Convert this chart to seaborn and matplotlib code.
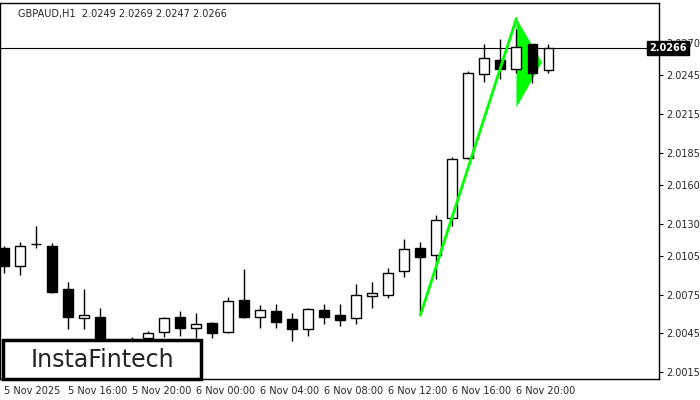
import numpy as np
import matplotlib.pyplot as plt
import seaborn as sns
from matplotlib.patches import Rectangle, Polygon

sns.set_style("white")
plt.rcParams['font.family'] = ['DejaVu Sans']

# OHLC, hourly from 5 Nov 12:00
opens  = [2.0111, 2.0097, 2.0114, 2.0113, 2.0079, 2.0057, 2.0058, 2.0032, 2.0036, 2.0041, 2.0046, 2.0058,
          2.0049, 2.0053, 2.0046, 2.0071, 2.0058, 2.0062, 2.0056, 2.0048, 2.0063, 2.0059, 2.0057, 2.0074,
          2.0075, 2.0093, 2.0111, 2.0106, 2.0134, 2.0181, 2.0246, 2.0257, 2.0250, 2.0269, 2.0249]
highs  = [2.0113, 2.0116, 2.0128, 2.0115, 2.0085, 2.0079, 2.0065, 2.0040, 2.0042, 2.0047, 2.0058, 2.0062,
          2.0061, 2.0054, 2.0073, 2.0095, 2.0067, 2.0068, 2.0061, 2.0065, 2.0068, 2.0068, 2.0083, 2.0085,
          2.0096, 2.0118, 2.0116, 2.0137, 2.0182, 2.0248, 2.0269, 2.0273, 2.0281, 2.0269, 2.0269]
lows   = [2.0092, 2.0090, 2.0111, 2.0076, 2.0048, 2.0048, 2.0025, 2.0028, 2.0032, 2.0040, 2.0042, 2.0043,
          2.0041, 2.0041, 2.0045, 2.0057, 2.0049, 2.0049, 2.0039, 2.0043, 2.0052, 2.0051, 2.0052, 2.0065,
          2.0072, 2.0089, 2.0059, 2.0087, 2.0128, 2.0180, 2.0240, 2.0242, 2.0247, 2.0239, 2.0247]
closes = [2.0097, 2.0113, 2.0114, 2.0077, 2.0058, 2.0059, 2.0030, 2.0036, 2.0040, 2.0045, 2.0057, 2.0049,
          2.0052, 2.0045, 2.0070, 2.0058, 2.0063, 2.0054, 2.0048, 2.0064, 2.0058, 2.0055, 2.0075, 2.0076,
          2.0092, 2.0110, 2.0104, 2.0133, 2.0180, 2.0247, 2.0258, 2.0250, 2.0267, 2.0247, 2.0266]
date_labels = ["5 Nov 2025", "5 Nov 16:00", "5 Nov 20:00", "6 Nov 00:00", "6 Nov 04:00",
               "6 Nov 08:00", "6 Nov 12:00", "6 Nov 16:00", "6 Nov 20:00"]
price_ticks = [2.0015, 2.0045, 2.0075, 2.0105, 2.0130, 2.0160, 2.0185, 2.0215, 2.0245, 2.0270]
current = 2.0266

# pennant pattern
pole_x, pole_y = [26, 32], [2.0059, 2.0289]
flag_x, flag_y = [32, 32, 33.6], [2.0289, 2.0220, 2.0255]

fig = plt.figure(figsize=(7, 4), dpi=100)
ax = fig.add_axes([0.0, 0.0525, 0.9414, 0.94])

w = 0.62
for i, (o, h, l, c) in enumerate(zip(opens, highs, lows, closes)):
    ax.vlines(i, l, h, color='black', lw=1, zorder=2)
    lo, hi = min(o, c), max(o, c)
    fc = 'white' if c >= o else 'black'
    ax.add_patch(Rectangle((i - w / 2, lo), w, max(hi - lo, 0.00002),
                           facecolor=fc, edgecolor='black', lw=1, zorder=3))

ax.add_patch(Polygon(list(zip(flag_x, flag_y)), closed=True, facecolor='#00ff00',
                     edgecolor='none', zorder=1.5))
ax.plot(pole_x, pole_y, color='#00ff00', lw=2, zorder=4)
ax.axhline(current, color='black', lw=0.8, zorder=1)

ax.set_xlim(-0.25, 40.9)
ax.set_ylim(2.00096, 2.0301)
ax.yaxis.tick_right()
ax.set_yticks(price_ticks)
ax.set_yticklabels([f"{t:.4f}" for t in price_ticks], fontsize=7)
ax.set_xticks(np.arange(0, 33, 4))
ax.set_xticklabels(date_labels, fontsize=7, ha='left')
ax.tick_params(axis='both', length=3, color='black', pad=2)
for s in ax.spines.values():
    s.set_color('black')
    s.set_linewidth(1)

ax.text(0.985, current, f"{current:.4f}", transform=ax.get_yaxis_transform(), fontsize=7,
        color='white', va='center', ha='left', fontweight='bold',
        bbox=dict(facecolor='black', edgecolor='black', pad=1.5), zorder=6, clip_on=False)

ax.text(0.027, 0.985, "GBPAUD,H1  2.0249 2.0269 2.0247 2.0266", transform=ax.transAxes,
        fontsize=7, va='top', ha='left')

# logo box
fig.patches.append(Rectangle((3 / 700, 21 / 400), 198 / 700, 39 / 400, transform=fig.transFigure,
                             facecolor='white', edgecolor='black', lw=2.5, zorder=10))
fig.text(102 / 700, 40 / 400, "InstaFintech", fontsize=17, ha='center', va='center',
         color='#222222', zorder=11)

fig.savefig("out.png", dpi=100)
